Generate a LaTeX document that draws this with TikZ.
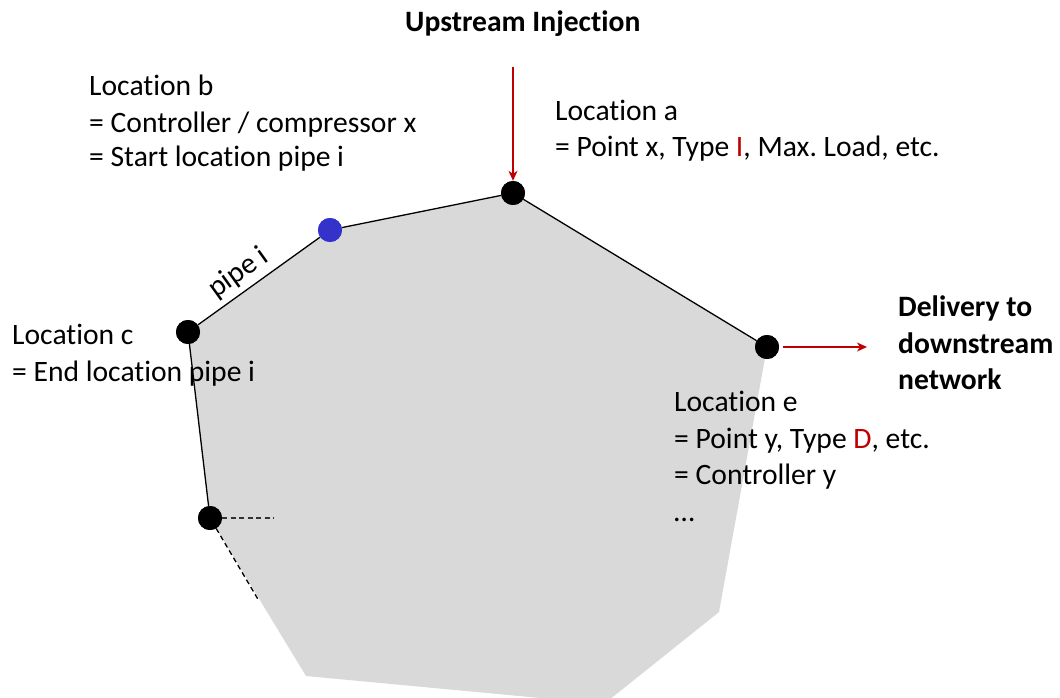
\documentclass[tikz,border=0pt]{standalone}
\usepackage{fontspec}
\setmainfont{Carlito}[Ligatures=NoCommon]
\usetikzlibrary{arrows.meta}
\definecolor{pptred}{HTML}{C00000}
\definecolor{polygray}{HTML}{D9D9D9}
\definecolor{dotblue}{HTML}{3333CC}
\frenchspacing
\tikzset{
  dotnode/.style={circle,fill=black,minimum size=24pt,inner sep=0pt},
  bluedot/.style={circle,fill=dotblue,minimum size=24pt,inner sep=0pt},
  txt/.style={anchor=base west,inner sep=0pt,font=\fontsize{29.6}{36}\selectfont},
  btxt/.style={anchor=base west,inner sep=0pt,font=\fontsize{29.6}{36}\selectfont\bfseries},
  edge/.style={line width=1.3pt,black},
  redarrow/.style={line width=1.1pt,pptred,-{Stealth[length=10pt,width=9pt,inset=3pt]}},
  dashedge/.style={line width=1.3pt,dash pattern=on 5pt off 3.5pt}
}
\begin{document}
\begin{tikzpicture}[x=1pt,y=-1pt]
\useasboundingbox (0,0) rectangle (1060,698);
\begin{scope}
\clip (0,0) rectangle (1060,698);
\fill[polygray] (513,193) -- (767,347) -- (719,612) -- (604,704) -- (306,676) -- (210,518) -- (188,332) -- (330,230) -- cycle;
\end{scope}
% dots
\node[dotnode] (a) at (513,193) {};
\node[dotnode] (e) at (767,347) {};
\node[dotnode] (c) at (188,332) {};
\node[dotnode] (f) at (210,518) {};
\node[bluedot] (b) at (330,230) {};
\coordinate (fh) at (274,518);
\coordinate (fd) at (259,601);
\coordinate (up) at (513,67);
\coordinate (dn) at (867,347);
% edges
\draw[edge] (c) -- node[pos=0.42,sloped,above,inner sep=5pt,font=\fontsize{29.6}{36}\selectfont] (pipe) {pipe i} (b);
\draw[edge] (b) -- (a);
\draw[edge] (a) -- (e);
\draw[edge] (c) -- (f);
\draw[dashedge,black!80] (f) -- (fh);
\draw[dashedge] (f) -- (fd);
\node[dotnode] at (a) {};
\node[dotnode] at (e) {};
\node[dotnode] at (c) {};
\node[dotnode] at (f) {};
\node[bluedot] at (b) {};
% arrows
\draw[redarrow] (up) -- (a.north);
\draw[redarrow] ([xshift=4pt]e.east) -- (dn);
% texts
\node[btxt] (ui) at (405,32) {Upstream Injection};
\node[txt] (b1) at (89,96) {Location b};
\node[txt] (b2) at (89,132) {= Controller / compressor x};
\node[txt] (b3) at (89,167) {= Start location pipe i};
\node[txt] (a1) at (555,121) {Location a};
\node[txt] (a2) at (555,157) {= Point x, Type \textcolor{pptred}{I}, Max. Load, etc.};
\node[txt] (c1) at (12,344) {Location c};
\node[txt] (c2) at (12,381) {= End location pipe i};
\node[btxt] (d1) at (898,316) {Delivery to};
\node[btxt] (d2) at (898,353) {downstream};
\node[btxt] (d3) at (898,389) {network};
\node[txt] (e1) at (674,411) {Location e};
\node[txt] (e2) at (674,448) {= Point y, Type \textcolor{pptred}{D}, etc.};
\node[txt] (e3) at (674,484) {= Controller y};
\node[txt] (e4) at (674,521) {…};
\end{tikzpicture}
\end{document}
